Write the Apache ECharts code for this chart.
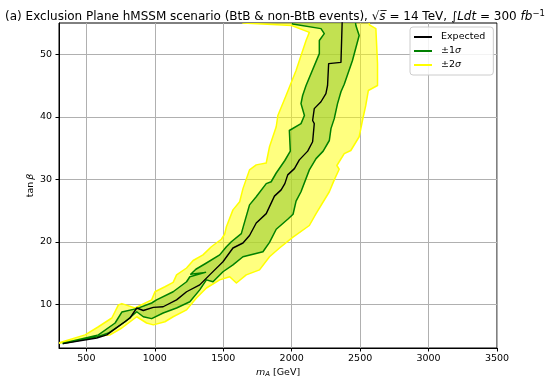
<!DOCTYPE html>
<html><head><meta charset="utf-8">
<script src="https://cdn.jsdelivr.net/npm/echarts@6/dist/echarts.min.js"></script>
<style>html,body{margin:0;padding:0;background:#fff}#c{width:550px;height:386px}</style>
</head><body><div id="c"></div>
<script>
// Axis ticks
const xTicks = [500, 1000, 1500, 2000, 2500, 3000, 3500];
const yTicks = [10, 20, 30, 40, 50];

// Expected limit [mA, tanb]
const expected = [[330,3.7],[576,4.6],[649,5.1],[819,7.8],[868,9.4],[916,9.0],[989,9.5],[1061,9.6],[1159,10.7],[1232,12.0],[1328,13.1],[1401,14.7],[1498,16.8],[1571,19.0],[1644,19.8],[1692,21.0],[1741,23.0],[1814,24.5],[1874,27.3],[1923,28.3],[1950,29.3],[1971,30.7],[2020,31.7],[2056,33.1],[2117,34.5],[2153,36.0],[2165,38.9],[2153,39.4],[2165,41.3],[2214,42.4],[2250,43.7],[2262,45.0],[2270,48.5],[2360,48.7],[2370,56]];

// +-1 sigma band edges (bottom to top)
const sigma1Left = [[330,3.75],[588,5.1],[710,7.0],[759,8.75],[868,9.3],[977,10.2],[1013,10.7],[1134,12.0],[1232,13.6],[1256,14.4],[1370,15.1],[1262,14.8],[1300,15.6],[1377,16.6],[1474,17.9],[1523,19.2],[1559,20.0],[1632,21.3],[1650,22.7],[1692,25.9],[1741,27.2],[1814,29.3],[1850,29.6],[1887,31.0],[1950,33.0],[1990,34.5],[1983,37.8],[2068,38.9],[2093,40.2],[2068,42.1],[2080,43.4],[2105,45.0],[2202,50.1],[2202,52.2],[2238,53.3],[2214,54.1],[2007,54.85],[1990,56]];
const sigma1Right = [[330,3.7],[588,4.85],[661,5.4],[783,7.2],[868,8.8],[916,8.0],[977,7.7],[1061,8.6],[1159,9.4],[1256,10.4],[1328,12.3],[1377,13.9],[1425,13.6],[1498,15.2],[1571,16.3],[1644,17.6],[1790,18.4],[1838,19.9],[1887,22.0],[1971,23.6],[2010,24.4],[2032,26.5],[2068,28.0],[2129,31.5],[2178,33.3],[2230,34.5],[2275,36.2],[2287,38.1],[2311,39.7],[2335,42.1],[2360,44.0],[2384,45.2],[2444,49.0],[2493,53.0],[2469,54.6],[2460,56]];

// +-2 sigma band edges (bottom to top)
const sigma2Left = [[300,3.85],[491,5.1],[588,6.4],[686,7.8],[734,9.9],[759,10.1],[855,9.4],[977,10.7],[1001,12.0],[1074,12.8],[1134,13.5],[1159,14.7],[1232,15.8],[1280,17.0],[1352,17.9],[1413,19.2],[1486,20.4],[1510,21.2],[1523,22.4],[1571,25.1],[1620,26.4],[1644,28.5],[1692,31.5],[1741,32.3],[1814,32.6],[1838,35.2],[1887,38.4],[1899,40.2],[1959,43.4],[2032,47.4],[2105,52.2],[2129,53.5],[2000,54.6],[1644,55.0],[1600,56]];
const sigma2Right = [[300,3.75],[491,4.6],[673,5.1],[759,6.2],[868,8.0],[940,7.0],[989,6.7],[1074,7.2],[1134,8.0],[1232,9.1],[1304,11.0],[1377,12.6],[1474,13.9],[1547,14.4],[1596,13.4],[1668,14.7],[1765,15.5],[1838,17.6],[1911,19.0],[2007,20.7],[2129,22.6],[2178,24.5],[2275,28.0],[2311,29.9],[2347,31.6],[2330,32.2],[2384,34.1],[2432,34.6],[2493,36.8],[2517,39.4],[2541,41.8],[2560,44.2],[2627,45.0],[2627,48.5],[2615,54.1],[2568,54.7],[2560,56]];

const FONT = 'DejaVu Sans';
function band(left, right) { return left.concat(right.slice().reverse()); }
function polySeries(name, pts, fill, stroke) {
  return {
    name: name, type: 'custom', clip: true, coordinateSystem: 'cartesian2d',
    itemStyle: { color: stroke },
    data: [[pts[0][0], pts[0][1]]],
    renderItem: function (params, api) {
      return { type: 'polygon', shape: { points: pts.map(p => api.coord(p)) },
        style: { fill: fill, stroke: stroke, lineWidth: 1.5, lineJoin: 'round' } };
    }
  };
}

const chart = echarts.init(document.getElementById('c'), null, { renderer: 'canvas' });
chart.setOption({
  animation: false,
  textStyle: { fontFamily: FONT },
  title: {
    text: '(a) Exclusion Plane hMSSM scenario (BtB & non-BtB events), \u221A{i|s\u0305} = 14 TeV, \u222B{i|Ldt} = 300 {i|fb}{sup|\u22121}',
    left: 'center', top: 4,
    textStyle: { fontFamily: FONT, fontSize: 12, fontWeight: 'normal', color: '#000',
      rich: { i: { fontFamily: FONT, fontSize: 12, fontStyle: 'italic', color: '#000' },
              sup: { fontFamily: FONT, fontSize: 8.5, color: '#000', verticalAlign: 'top', padding: [0,0,6,0] } } }
  },
  legend: {
    orient: 'vertical', left: 410, top: 27,
    padding: [5, 8, 5, 4], itemGap: 4, itemWidth: 18, itemHeight: 2,
    backgroundColor: 'rgba(255,255,255,0.85)', borderColor: '#cccccc', borderWidth: 1, borderRadius: 3,
    formatter: function (n) { return n.replace('\u03C3', '{i|\u03C3}'); },
    textStyle: { fontFamily: FONT, fontSize: 9.5, color: '#000', padding: [0, 0, 0, 4],
      rich: { i: { fontFamily: FONT, fontSize: 9.5, fontStyle: 'italic', color: '#000' } } },
    data: [
      { name: 'Expected', icon: 'rect', itemStyle: { color: '#000' } },
      { name: '\u00B11\u03C3', icon: 'rect', itemStyle: { color: '#008000' } },
      { name: '\u00B12\u03C3', icon: 'rect', itemStyle: { color: '#ffff00' } }
    ]
  },
  grid: { left: 59, right: 53, top: 23, bottom: 38, show: true, borderColor: '#000', borderWidth: 1, backgroundColor: 'transparent' },
  xAxis: {
    type: 'value', min: 300, max: 3500,
    name: '{i|m}{s|A} [GeV]', nameLocation: 'middle', nameGap: 19, nameMoveOverlap: false,
    nameTextStyle: { fontFamily: FONT, fontSize: 9.5, color: '#000',
      rich: { i: { fontStyle: 'italic', fontSize: 9.5, fontFamily: FONT }, s: { fontSize: 7, fontStyle: 'italic', fontFamily: FONT, verticalAlign: 'bottom', padding: [4,0,0,0] } } },
    axisLine: { show: true, lineStyle: { color: '#000', width: 1 } },
    axisTick: { show: true, length: 3.5, customValues: xTicks, lineStyle: { color: '#000' } },
    axisLabel: { customValues: xTicks, formatter: function (v) { return String(v); }, fontFamily: FONT, fontSize: 9.5, color: '#000', margin: 6 },
    splitLine: { show: true, lineStyle: { color: '#b0b0b0', width: 1 } }
  },
  yAxis: {
    type: 'value', min: 3, max: 55,
    name: 'tan\u2009{i|\u03B2}', nameLocation: 'middle', nameGap: 23, nameMoveOverlap: false,
    nameTextStyle: { fontFamily: FONT, fontSize: 9.5, color: '#000',
      rich: { i: { fontFamily: FONT, fontSize: 9.5, fontStyle: 'italic', color: '#000' } } },
    axisLine: { show: true, lineStyle: { color: '#000', width: 1 } },
    axisTick: { show: true, length: 3.5, customValues: yTicks, lineStyle: { color: '#000' } },
    axisLabel: { customValues: yTicks, formatter: function (v) { return String(v); }, fontFamily: FONT, fontSize: 9.5, color: '#000', margin: 7 },
    splitLine: { show: true, lineStyle: { color: '#b0b0b0', width: 1 } }
  },
  series: [
    polySeries('\u00B12\u03C3', band(sigma2Left, sigma2Right), 'rgba(255,255,0,0.5)', '#ffff00'),
    polySeries('\u00B11\u03C3', band(sigma1Left, sigma1Right), 'rgba(154,205,50,0.6)', '#008000'),
    { name: 'Expected', type: 'line', data: expected, showSymbol: false, symbol: 'none', clip: true,
      itemStyle: { color: '#000' }, lineStyle: { color: '#000', width: 1.4 }, z: 5 }
  ]
});
</script></body></html>
